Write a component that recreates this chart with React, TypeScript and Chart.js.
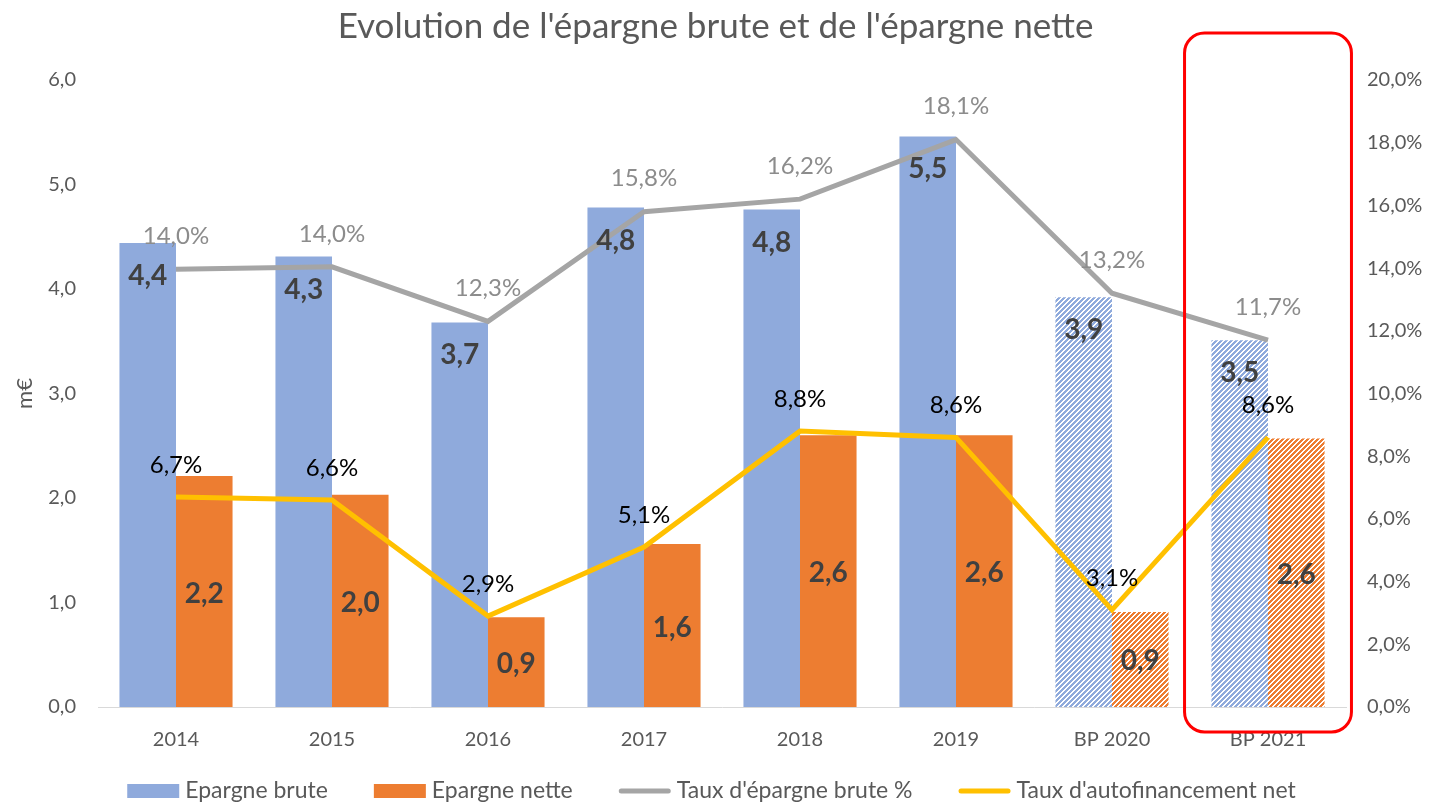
import React, { useEffect, useRef } from "react";
import { Chart, registerables } from "chart.js";

Chart.register(...registerables);

const categories = ["2014", "2015", "2016", "2017", "2018", "2019", "BP 2020", "BP 2021"];
const epargneBrute = [4.44, 4.31, 3.68, 4.78, 4.76, 5.46, 3.92, 3.51];
const epargneNette = [2.21, 2.03, 0.86, 1.56, 2.6, 2.6, 0.91, 2.57];
const tauxEpargneBrute = [13.96, 14.04, 12.3, 15.8, 16.2, 18.1, 13.2, 11.7];
const tauxAutofinancement = [6.7, 6.6, 2.9, 5.1, 8.8, 8.6, 3.1, 8.6];
const seriesNames = ["Epargne brute", "Epargne nette", "Taux d'épargne brute %", "Taux d'autofinancement net"];
const projectedCount = 2;

const FONT = "Lato, 'Open Sans', sans-serif";
const BLUE = "#8FAADC";
const ORANGE = "#ED7D31";
const GRAY = "#A5A5A5";
const YELLOW = "#FFC000";
const TEXT = "#595959";
const seriesColors = [BLUE, ORANGE, GRAY, YELLOW];

function hatch(color: string): CanvasPattern | string {
  const n = 5;
  const c = document.createElement("canvas");
  c.width = n;
  c.height = n;
  const g = c.getContext("2d");
  if (!g) return color;
  g.fillStyle = "#ffffff";
  g.fillRect(0, 0, n, n);
  g.fillStyle = color;
  for (let y = 0; y < n; y++) {
    for (let x = 0; x < n; x++) {
      if ((x + y) % n < 3) g.fillRect(x, y, 1, 1);
    }
  }
  const p = g.createPattern(c, "repeat");
  return p || color;
}

const fmt1 = (v: number) => v.toFixed(1).replace(".", ",");

const labelsPlugin = {
  id: "customLabels",
  afterDatasetsDraw(chart: any) {
    const ctx = chart.ctx;
    const ca = chart.chartArea;
    const xs = chart.scales.x;
    const n = categories.length;
    const cx = xs.getPixelForValue(n - 1);
    const cw = (ca.right - ca.left) / n;
    const rx = cx - cw * 0.535;
    const rw = cw * 1.07;
    const ry = ca.top - 47;
    const rh = ca.bottom + 25 - ry;
    ctx.save();
    ctx.strokeStyle = "#FF0000";
    ctx.lineWidth = 3;
    ctx.beginPath();
    (ctx as any).roundRect(rx, ry, rw, rh, 20);
    ctx.stroke();
    ctx.restore();

    ctx.save();
    ctx.textAlign = "center";
    ctx.textBaseline = "middle";
    const m0 = chart.getDatasetMeta(0);
    const m1 = chart.getDatasetMeta(1);
    ctx.font = `bold 28px ${FONT}`;
    ctx.fillStyle = "#404040";
    m0.data.forEach((el: any, i: number) => {
      ctx.fillText(fmt1(epargneBrute[i]), el.x, el.y + 33);
    });
    m1.data.forEach((el: any, i: number) => {
      ctx.fillText(fmt1(epargneNette[i]), el.x, (el.y + el.base) / 2 + 2);
    });
    const m2 = chart.getDatasetMeta(2);
    const m3 = chart.getDatasetMeta(3);
    ctx.font = `24px ${FONT}`;
    ctx.fillStyle = "#8C8C8C";
    m2.data.forEach((el: any, i: number) => {
      ctx.fillText(fmt1(tauxEpargneBrute[i]) + "%", el.x, el.y - 33);
    });
    ctx.fillStyle = "#000000";
    m3.data.forEach((el: any, i: number) => {
      ctx.fillText(fmt1(tauxAutofinancement[i]) + "%", el.x, el.y - 32);
    });
    ctx.restore();
  },
};

const legendPlugin = {
  id: "bottomLegend",
  afterDraw(chart: any) {
    const ctx = chart.ctx;
    const markerW = 52;
    const gapText = 6;
    const gapItem = 46;
    ctx.save();
    ctx.font = `23px ${FONT}`;
    ctx.textBaseline = "middle";
    ctx.textAlign = "left";
    const widths = seriesNames.map((t) => markerW + gapText + ctx.measureText(t).width);
    const total = widths.reduce((a, b) => a + b, 0) + gapItem * (widths.length - 1);
    let x = chart.width / 2 - total / 2 - 4;
    const y = chart.height - 13;
    seriesNames.forEach((t, i) => {
      if (i < 2) {
        ctx.fillStyle = seriesColors[i];
        ctx.fillRect(x, y - 7, markerW, 14);
      } else {
        ctx.strokeStyle = seriesColors[i];
        ctx.lineWidth = 5;
        ctx.lineCap = "round";
        ctx.beginPath();
        ctx.moveTo(x + 2.5, y);
        ctx.lineTo(x + markerW - 2.5, y);
        ctx.stroke();
      }
      ctx.fillStyle = TEXT;
      ctx.fillText(t, x + markerW + gapText, y);
      x += widths[i] + gapItem;
    });
    ctx.restore();
  },
};

export default function App() {
  const ref = useRef<HTMLCanvasElement>(null);
  useEffect(() => {
    if (!ref.current) return;
    const prevMargin = document.body.style.margin;
    document.body.style.margin = "0";
    const n = categories.length;
    const blueColors = categories.map((_, i) => (i >= n - projectedCount ? hatch(BLUE) : BLUE));
    const orangeColors = categories.map((_, i) => (i >= n - projectedCount ? hatch(ORANGE) : ORANGE));
    const chart = new Chart(ref.current, {
      type: "bar",
      data: {
        labels: categories,
        datasets: [
          {
            type: "bar",
            label: seriesNames[0],
            data: epargneBrute,
            backgroundColor: blueColors as any,
            yAxisID: "y",
            order: 2,
            categoryPercentage: 0.725,
            barPercentage: 1,
          },
          {
            type: "bar",
            label: seriesNames[1],
            data: epargneNette,
            backgroundColor: orangeColors as any,
            yAxisID: "y",
            order: 2,
            categoryPercentage: 0.725,
            barPercentage: 1,
          },
          {
            type: "line",
            label: seriesNames[2],
            data: tauxEpargneBrute,
            borderColor: GRAY,
            backgroundColor: GRAY,
            borderWidth: 5,
            pointRadius: 0,
            tension: 0,
            yAxisID: "y1",
            order: 1,
          },
          {
            type: "line",
            label: seriesNames[3],
            data: tauxAutofinancement,
            borderColor: YELLOW,
            backgroundColor: YELLOW,
            borderWidth: 5,
            pointRadius: 0,
            tension: 0,
            yAxisID: "y1",
            order: 0,
          },
        ] as any,
      },
      options: {
        animation: false,
        responsive: true,
        maintainAspectRatio: false,
        layout: { padding: { left: 0, right: 0, top: 0, bottom: 52 } },
        plugins: {
          tooltip: { enabled: false },
          legend: { display: false },
          title: {
            display: true,
            text: "Evolution de l'épargne brute et de l'épargne nette",
            color: TEXT,
            font: { family: FONT, size: 35, weight: "normal" as any },
            padding: { top: 6, bottom: 32 },
          },
        },
        scales: {
          x: {
            grid: { display: false, drawTicks: false },
            border: { display: true, color: "#D9D9D9", width: 1 },
            ticks: { color: TEXT, font: { family: FONT, size: 20 }, padding: 21 },
            afterFit: (s: any) => {
              s.height = 45;
            },
          },
          y: {
            position: "left",
            min: 0,
            max: 6,
            grid: { display: false, drawTicks: false },
            border: { display: false },
            ticks: {
              stepSize: 1,
              color: TEXT,
              font: { family: FONT, size: 20 },
              padding: 22,
              callback: (v: any) => fmt1(Number(v)),
            },
            title: {
              display: true,
              text: "m€",
              color: TEXT,
              font: { family: FONT, size: 22 },
              padding: { top: 12, bottom: 0 },
            },
            afterFit: (s: any) => {
              s.width = 98;
            },
          },
          y1: {
            position: "right",
            min: 0,
            max: 20,
            grid: { display: false, drawTicks: false },
            border: { display: false },
            ticks: {
              stepSize: 2,
              color: TEXT,
              font: { family: FONT, size: 20 },
              padding: 21,
              callback: (v: any) => fmt1(Number(v)) + "%",
            },
            afterFit: (s: any) => {
              s.width = 85;
            },
          },
        },
      },
      plugins: [labelsPlugin, legendPlugin],
    });
    return () => {
      chart.destroy();
      document.body.style.margin = prevMargin;
    };
  }, []);
  return (
    <div style={{ width: 1431, height: 804, position: "relative" }}>
      <canvas ref={ref} />
    </div>
  );
}
